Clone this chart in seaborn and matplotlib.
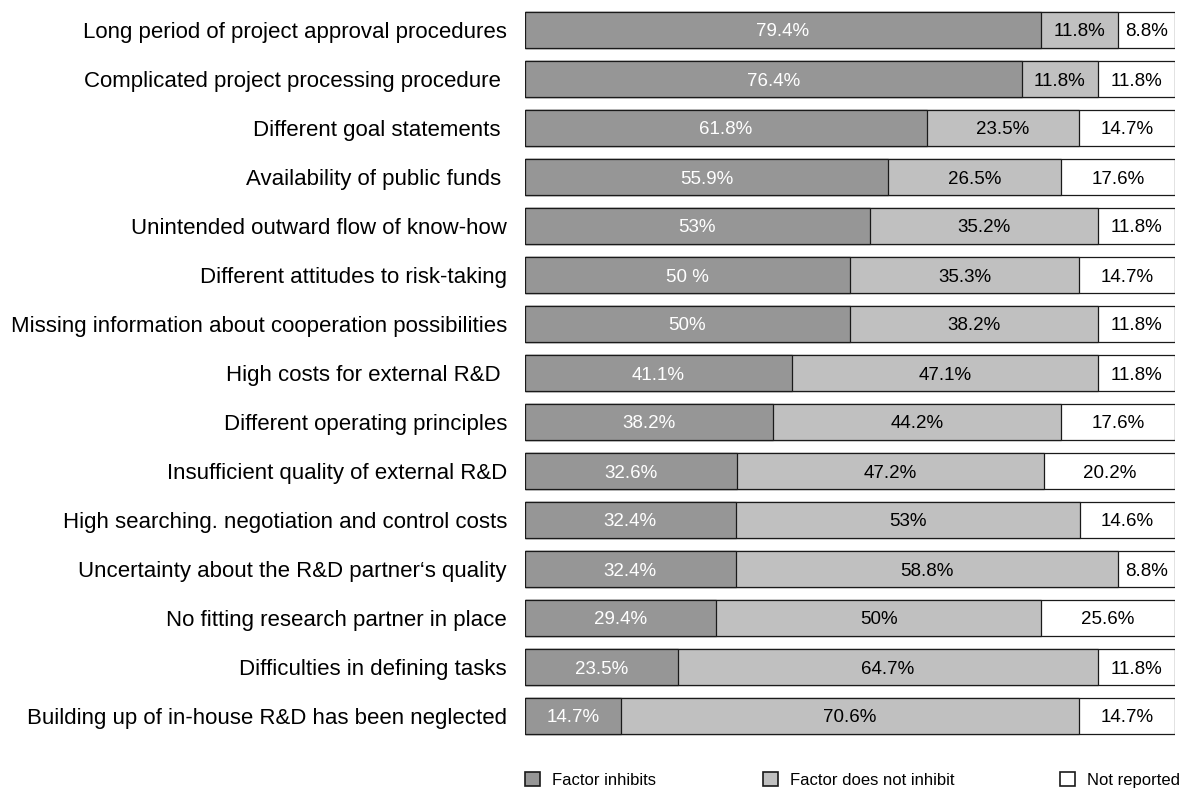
import matplotlib
matplotlib.use("Agg")
import matplotlib.pyplot as plt
import seaborn as sns
import pandas as pd
from matplotlib.patches import Patch

# Factors and survey shares (in %)
factors = [
    "Long period of project approval procedures",
    "Complicated project processing procedure ",
    "Different goal statements ",
    "Availability of public funds ",
    "Unintended outward flow of know-how",
    "Different attitudes to risk-taking",
    "Missing information about cooperation possibilities",
    "High costs for external R&D ",
    "Different operating principles",
    "Insufficient quality of external R&D",
    "High searching. negotiation and control costs",
    "Uncertainty about the R&D partner\u2018s quality",
    "No fitting research partner in place",
    "Difficulties in defining tasks",
    "Building up of in-house R&D has been neglected",
]
inhibits = [79.4, 76.4, 61.8, 55.9, 53.0, 50.0, 50.0, 41.1, 38.2, 32.6, 32.4, 32.4, 29.4, 23.5, 14.7]
not_inhibit = [11.8, 11.8, 23.5, 26.5, 35.2, 35.3, 38.2, 47.1, 44.2, 47.2, 53.0, 58.8, 50.0, 64.7, 70.6]
not_reported = [8.8, 11.8, 14.7, 17.6, 11.8, 14.7, 11.8, 11.8, 17.6, 20.2, 14.6, 8.8, 20.6, 11.8, 14.7]

# printed labels (as they appear in the source)
lab_inhibits = ["79.4%", "76.4%", "61.8%", "55.9%", "53%", "50 %", "50%", "41.1%", "38.2%",
                "32.6%", "32.4%", "32.4%", "29.4%", "23.5%", "14.7%"]
lab_not_inhibit = ["11.8%", "11.8%", "23.5%", "26.5%", "35.2%", "35.3%", "38.2%", "47.1%", "44.2%",
                   "47.2%", "53%", "58.8%", "50%", "64.7%", "70.6%"]
lab_not_reported = ["8.8%", "11.8%", "14.7%", "17.6%", "11.8%", "14.7%", "11.8%", "11.8%", "17.6%",
                    "20.2%", "14.6%", "8.8%", "25.6%", "11.8%", "14.7%"]

df = pd.DataFrame({"factor": factors, "a": inhibits, "b": not_inhibit, "c": not_reported})
df["ab"] = df["a"] + df["b"]
df["abc"] = df["ab"] + df["c"]

c_dark, c_light, c_white = "#969696", "#c0c0c0", "#ffffff"
edge = "#1a1a1a"

sns.set_style("white")
plt.rcParams["font.family"] = ["Liberation Sans", "DejaVu Sans"]
plt.rcParams["text.color"] = "black"
plt.rcParams["ytick.color"] = "black"
plt.rcParams["ytick.labelcolor"] = "black"

fig = plt.figure(figsize=(11.82, 7.89), dpi=100)
ax = fig.add_axes([525 / 1182, 1 - 740.5 / 789, 650 / 1182, 735 / 789])

bw = 0.735
# draw cumulative bars on top of each other to get a stacked look
sns.barplot(data=df, x="abc", y="factor", orient="h", color=c_white, width=bw,
            edgecolor=edge, linewidth=0.9, saturation=1, ax=ax)
sns.barplot(data=df, x="ab", y="factor", orient="h", color=c_light, width=bw,
            edgecolor=edge, linewidth=0.9, saturation=1, ax=ax)
sns.barplot(data=df, x="a", y="factor", orient="h", color=c_dark, width=bw,
            edgecolor=edge, linewidth=0.9, saturation=1, ax=ax)

fs_val = 13.5
for i, row in df.iterrows():
    ax.text(row["a"] / 2, i, lab_inhibits[i], ha="center", va="center_baseline",
            color="white", fontsize=fs_val)
    ax.text(row["a"] + row["b"] / 2, i, lab_not_inhibit[i], ha="center", va="center_baseline",
            color="black", fontsize=fs_val)
    ax.text(row["ab"] + row["c"] / 2, i, lab_not_reported[i], ha="center", va="center_baseline",
            color="black", fontsize=fs_val)

ax.set_xlim(0, 100)
ax.set_ylim(14.5, -0.5)
ax.set_xlabel("")
ax.set_ylabel("")
ax.set_xticks([])
ax.tick_params(axis="y", length=0, pad=13, labelsize=16, labelcolor="black")
for s in ax.spines.values():
    s.set_visible(False)

# legend: three separate entries spread along the bottom
entries = [("Factor inhibits", c_dark, 525), ("Factor does not inhibit", c_light, 763),
           ("Not reported", c_white, 1060)]
for name, col, px in entries:
    fig.legend(handles=[Patch(facecolor=col, edgecolor=edge, linewidth=1.2)],
               labels=[name], loc="center left",
               bbox_to_anchor=(px / 1182, 1 - 780 / 789), frameon=False,
               fontsize=12, handlelength=0.9, handleheight=0.9,
               handletextpad=0.7, borderpad=0, borderaxespad=0)

fig.savefig("out.png", dpi=100)
